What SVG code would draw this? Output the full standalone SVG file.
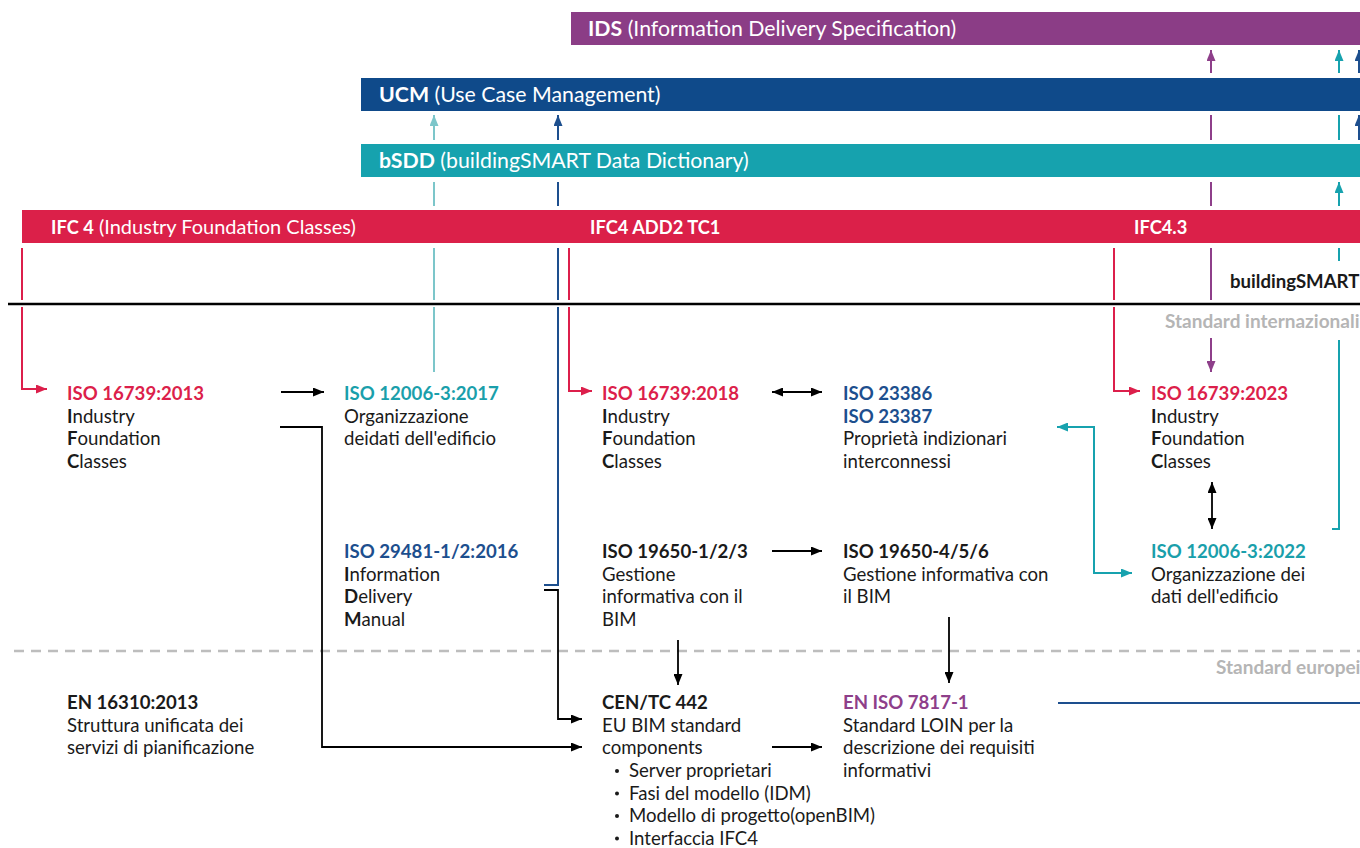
<svg xmlns="http://www.w3.org/2000/svg" width="1360" height="848" viewBox="0 0 1360 848">
  <style>
    text { font-family: Lato, "Open Sans", "Liberation Sans", sans-serif; }
    .t { font-size: 18.6px; fill: #1a1a1a; }
    .b { font-weight: 700; }
    .bar { font-size: 21.3px; fill: #ffffff; }
    .bar-ifc { font-size: 20px; fill: #ffffff; }
    .bar-ifc .b, .bar-ifc.b { font-size: 18.3px; }
    .red { fill: #dc1f4b; }
    .teal { fill: #1a9fab; }
    .navy { fill: #1d4f8e; }
    .purple { fill: #8e3f8a; }
    .grey { font-size: 19px; font-weight: 700; fill: #b5b5b5; }
    .dot { fill: #1a1a1a; }
    .k { stroke: #000; stroke-width: 1.8; fill: none; }
    .cr { stroke: #dc1f4b; stroke-width: 2; fill: none; }
    .cn { stroke: #1d4f8e; stroke-width: 2; fill: none; }
    .ct { stroke: #17a2ae; stroke-width: 2; fill: none; }
    .cl { stroke: #7cc6ca; stroke-width: 2; fill: none; }
    .cp { stroke: #8e3f8a; stroke-width: 2; fill: none; }
  </style>
  <defs>
    <marker id="ak" viewBox="0 0 11 9" refX="11" refY="4.5" markerWidth="11" markerHeight="9" markerUnits="userSpaceOnUse" orient="auto-start-reverse"><path d="M0,0 L11,4.5 L0,9 z" fill="#000"/></marker>
    <marker id="ar" viewBox="0 0 11 9" refX="11" refY="4.5" markerWidth="11" markerHeight="9" markerUnits="userSpaceOnUse" orient="auto-start-reverse"><path d="M0,0 L11,4.5 L0,9 z" fill="#dc1f4b"/></marker>
    <marker id="an" viewBox="0 0 11 9" refX="11" refY="4.5" markerWidth="11" markerHeight="9" markerUnits="userSpaceOnUse" orient="auto-start-reverse"><path d="M0,0 L11,4.5 L0,9 z" fill="#1d4f8e"/></marker>
    <marker id="at" viewBox="0 0 11 9" refX="11" refY="4.5" markerWidth="11" markerHeight="9" markerUnits="userSpaceOnUse" orient="auto-start-reverse"><path d="M0,0 L11,4.5 L0,9 z" fill="#17a2ae"/></marker>
    <marker id="al" viewBox="0 0 11 9" refX="11" refY="4.5" markerWidth="11" markerHeight="9" markerUnits="userSpaceOnUse" orient="auto-start-reverse"><path d="M0,0 L11,4.5 L0,9 z" fill="#7cc6ca"/></marker>
    <marker id="ap" viewBox="0 0 11 9" refX="11" refY="4.5" markerWidth="11" markerHeight="9" markerUnits="userSpaceOnUse" orient="auto-start-reverse"><path d="M0,0 L11,4.5 L0,9 z" fill="#8e3f8a"/></marker>
  </defs>

  <rect width="1360" height="848" fill="#ffffff"/>

  <!-- specification bars -->
  <g id="bar-ids">
    <rect x="571" y="12" width="789" height="33" fill="#8b3d86"/>
    <text class="bar" x="588" y="36"><tspan class="b">IDS</tspan> (Information Delivery Specification)</text>
  </g>
  <g id="bar-ucm">
    <rect x="361" y="78" width="999" height="33" fill="#0f4a8a"/>
    <text class="bar" x="379" y="102"><tspan class="b">UCM</tspan> (Use Case Management)</text>
  </g>
  <g id="bar-bsdd">
    <rect x="361" y="144" width="999" height="33" fill="#16a2ae"/>
    <text class="bar" x="379" y="168"><tspan class="b">bSDD</tspan> (buildingSMART Data Dictionary)</text>
  </g>
  <g id="bar-ifc">
    <rect x="22" y="210" width="1338" height="33" fill="#db2049"/>
    <text class="bar-ifc" x="51" y="234"><tspan class="b">IFC 4</tspan> (Industry Foundation Classes)</text>
    <text class="bar-ifc b" x="590" y="234">IFC4 ADD2 TC1</text>
    <text class="bar-ifc b" x="1134" y="234">IFC4.3</text>
  </g>

  <!-- section separators and labels -->
  <g id="separators">
    <path d="M8,304 H1360" stroke="#000" stroke-width="2.6"/>
    <path d="M14,651 H1360" stroke="#bdbdbd" stroke-width="2.5" stroke-dasharray="10 7"/>
    <text class="t b" x="1230" y="288" font-size="18">buildingSMART</text>
    <text class="grey" x="1165" y="328">Standard internazionali</text>
    <text class="grey" x="1216" y="674">Standard europei</text>
  </g>

  <g id="connectors">
    <!-- vertical links through the bars -->
    <path class="cr" d="M22,248 V300 M22,307 V389 H47" marker-end="url(#ar)"/>
    <path class="cl" d="M434,140 V115" marker-end="url(#al)"/>
    <path class="cl" d="M434,182 V206 M434,248 V300 M434,307 V372"/>
    <path class="cn" d="M558,140 V115" marker-end="url(#an)"/>
    <path class="cn" d="M558,182 V206 M558,248 V300 M558,307 V585 H544"/>
    <path class="cr" d="M569,248 V300 M569,307 V391 H592" marker-end="url(#ar)"/>
    <path class="cr" d="M1114,248 V300 M1114,307 V391 H1140" marker-end="url(#ar)"/>
    <path class="cp" d="M1211,73 V50" marker-end="url(#ap)"/>
    <path class="cp" d="M1211,115 V140 M1211,182 V206 M1211,248 V300"/>
    <path class="cp" d="M1211,338 V372" marker-end="url(#ap)"/>
    <path class="ct" d="M1339,73 V50" marker-end="url(#at)"/>
    <path class="ct" d="M1339,115 V140 M1339,248 V261"/>
    <path class="ct" d="M1339,206 V182" marker-end="url(#at)"/>
    <path class="ct" d="M1339,340 V529 H1332"/>
    <path class="cn" d="M1359,73 V50" marker-end="url(#an)"/>
    <path class="cn" d="M1359,140 V115" marker-end="url(#an)"/>
    <!-- links between standards -->
    <path class="k" d="M281,392 H324" marker-end="url(#ak)"/>
    <path class="k" d="M280,427 H322 V747 H582" marker-end="url(#ak)"/>
    <path class="k" d="M544,590 H558 V719 H582" marker-end="url(#ak)"/>
    <path class="k" d="M772,392 H822" marker-start="url(#ak)" marker-end="url(#ak)"/>
    <path class="k" d="M772,551 H822" marker-end="url(#ak)"/>
    <path class="k" d="M678,640 V685" marker-end="url(#ak)"/>
    <path class="k" d="M949,617 V683" marker-end="url(#ak)"/>
    <path class="k" d="M772,747 H822" marker-end="url(#ak)"/>
    <path class="k" d="M1212,482 V529" marker-start="url(#ak)" marker-end="url(#ak)"/>
    <path class="ct" d="M1057,427 H1094 V573 H1132" marker-start="url(#at)" marker-end="url(#at)"/>
    <path class="cn" d="M1058,703 H1360"/>
  </g>

  <!-- international standards -->
  <g id="iso-16739-2013">
    <text class="t b red" x="67" y="400">ISO 16739:2013</text>
    <text class="t" x="67" y="422.5"><tspan class="b">I</tspan>ndustry</text>
    <text class="t" x="67" y="445"><tspan class="b">F</tspan>oundation</text>
    <text class="t" x="67" y="467.5"><tspan class="b">C</tspan>lasses</text>
  </g>
  <g id="iso-12006-2017">
    <text class="t b teal" x="344" y="400">ISO 12006-3:2017</text>
    <text class="t" x="344" y="422.5">Organizzazione</text>
    <text class="t" x="344" y="445">deidati dell'edificio</text>
  </g>
  <g id="iso-16739-2018">
    <text class="t b red" x="602" y="400">ISO 16739:2018</text>
    <text class="t" x="602" y="422.5"><tspan class="b">I</tspan>ndustry</text>
    <text class="t" x="602" y="445"><tspan class="b">F</tspan>oundation</text>
    <text class="t" x="602" y="467.5"><tspan class="b">C</tspan>lasses</text>
  </g>
  <g id="iso-23386-23387">
    <text class="t b navy" x="843" y="400">ISO 23386</text>
    <text class="t b navy" x="843" y="422.5">ISO 23387</text>
    <text class="t" x="843" y="445">Proprietà indizionari</text>
    <text class="t" x="843" y="467.5">interconnessi</text>
  </g>
  <g id="iso-16739-2023">
    <text class="t b red" x="1151" y="400">ISO 16739:2023</text>
    <text class="t" x="1151" y="422.5"><tspan class="b">I</tspan>ndustry</text>
    <text class="t" x="1151" y="445"><tspan class="b">F</tspan>oundation</text>
    <text class="t" x="1151" y="467.5"><tspan class="b">C</tspan>lasses</text>
  </g>
  <g id="iso-29481">
    <text class="t b navy" x="344" y="558">ISO 29481-1/2:2016</text>
    <text class="t" x="344" y="580.5"><tspan class="b">I</tspan>nformation</text>
    <text class="t" x="344" y="603"><tspan class="b">D</tspan>elivery</text>
    <text class="t" x="344" y="625.5"><tspan class="b">M</tspan>anual</text>
  </g>
  <g id="iso-19650-123">
    <text class="t b" x="602" y="558">ISO 19650-1/2/3</text>
    <text class="t" x="602" y="580.5">Gestione</text>
    <text class="t" x="602" y="603">informativa con il</text>
    <text class="t" x="602" y="625.5">BIM</text>
  </g>
  <g id="iso-19650-456">
    <text class="t b" x="843" y="558">ISO 19650-4/5/6</text>
    <text class="t" x="843" y="580.5">Gestione informativa con</text>
    <text class="t" x="843" y="603">il BIM</text>
  </g>
  <g id="iso-12006-2022">
    <text class="t b teal" x="1151" y="558">ISO 12006-3:2022</text>
    <text class="t" x="1151" y="580.5">Organizzazione dei</text>
    <text class="t" x="1151" y="603">dati dell'edificio</text>
  </g>

  <!-- european standards -->
  <g id="en-16310">
    <text class="t b" x="67" y="709">EN 16310:2013</text>
    <text class="t" x="67" y="731.5">Struttura unificata dei</text>
    <text class="t" x="67" y="754">servizi di pianificazione</text>
  </g>
  <g id="cen-tc-442">
    <text class="t b" x="602" y="709">CEN/TC 442</text>
    <text class="t" x="602" y="731.5">EU BIM standard</text>
    <text class="t" x="602" y="754">components</text>
    <circle class="dot" cx="617" cy="771" r="2"/><text class="t" x="629" y="777">Server proprietari</text>
    <circle class="dot" cx="617" cy="793.5" r="2"/><text class="t" x="629" y="799.5">Fasi del modello (IDM)</text>
    <circle class="dot" cx="617" cy="816" r="2"/><text class="t" x="629" y="822">Modello di progetto(openBIM)</text>
    <circle class="dot" cx="617" cy="838.5" r="2"/><text class="t" x="629" y="844.5">Interfaccia IFC4</text>
  </g>
  <g id="en-iso-7817">
    <text class="t b purple" x="843" y="709">EN ISO 7817-1</text>
    <text class="t" x="843" y="731.5">Standard LOIN per la</text>
    <text class="t" x="843" y="754">descrizione dei requisiti</text>
    <text class="t" x="843" y="776.5">informativi</text>
  </g>
</svg>
